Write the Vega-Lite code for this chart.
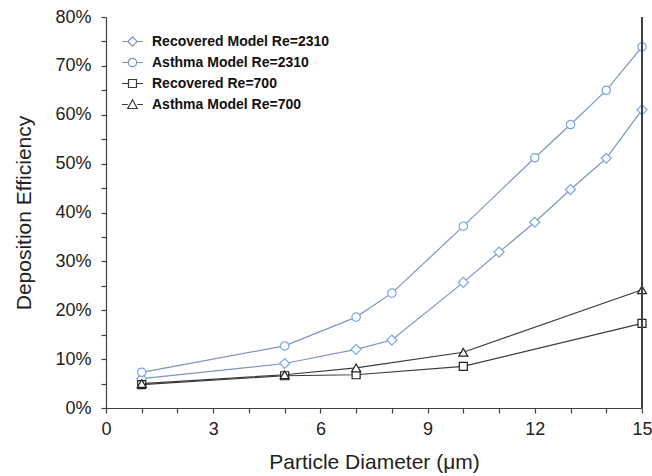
{
  "$schema": "https://vega.github.io/schema/vega-lite/v6.json",
  "width": 536,
  "height": 391,
  "autosize": {"type": "none"},
  "padding": {"left": 106, "top": 17, "right": 10, "bottom": 68},
  "background": "white",
  "config": {
    "view": {"stroke": null},
    "font": "Liberation Sans",
    "axis": {
      "grid": false,
      "domainColor": "#404040",
      "tickColor": "#404040",
      "labelColor": "#222222",
      "titleColor": "#222222",
      "labelFont": "Liberation Sans",
      "titleFont": "Liberation Sans",
      "labelFontSize": 18,
      "titleFontSize": 21,
      "titleFontWeight": "normal",
      "tickSize": 5,
      "domainWidth": 1.2,
      "tickWidth": 1.2,
      "labelOverlap": false
    }
  },
  "data": {
    "values": [
      {"series": "Recovered Model Re=2310", "d": 1, "eff": 0.060},
      {"series": "Recovered Model Re=2310", "d": 5, "eff": 0.091},
      {"series": "Recovered Model Re=2310", "d": 7, "eff": 0.120},
      {"series": "Recovered Model Re=2310", "d": 8, "eff": 0.139},
      {"series": "Recovered Model Re=2310", "d": 10, "eff": 0.257},
      {"series": "Recovered Model Re=2310", "d": 11, "eff": 0.319},
      {"series": "Recovered Model Re=2310", "d": 12, "eff": 0.380},
      {"series": "Recovered Model Re=2310", "d": 13, "eff": 0.447},
      {"series": "Recovered Model Re=2310", "d": 14, "eff": 0.511},
      {"series": "Recovered Model Re=2310", "d": 15, "eff": 0.610},
      {"series": "Asthma Model Re=2310", "d": 1, "eff": 0.073},
      {"series": "Asthma Model Re=2310", "d": 5, "eff": 0.127},
      {"series": "Asthma Model Re=2310", "d": 7, "eff": 0.186},
      {"series": "Asthma Model Re=2310", "d": 8, "eff": 0.235},
      {"series": "Asthma Model Re=2310", "d": 10, "eff": 0.372},
      {"series": "Asthma Model Re=2310", "d": 12, "eff": 0.512},
      {"series": "Asthma Model Re=2310", "d": 13, "eff": 0.580},
      {"series": "Asthma Model Re=2310", "d": 14, "eff": 0.650},
      {"series": "Asthma Model Re=2310", "d": 15, "eff": 0.739},
      {"series": "Recovered Re=700", "d": 1, "eff": 0.048},
      {"series": "Recovered Re=700", "d": 5, "eff": 0.066},
      {"series": "Recovered Re=700", "d": 7, "eff": 0.068},
      {"series": "Recovered Re=700", "d": 10, "eff": 0.085},
      {"series": "Recovered Re=700", "d": 15, "eff": 0.173},
      {"series": "Asthma Model Re=700", "d": 1, "eff": 0.050},
      {"series": "Asthma Model Re=700", "d": 5, "eff": 0.068},
      {"series": "Asthma Model Re=700", "d": 7, "eff": 0.082},
      {"series": "Asthma Model Re=700", "d": 10, "eff": 0.114},
      {"series": "Asthma Model Re=700", "d": 15, "eff": 0.242}
    ]
  },
  "layer": [
    {
      "mark": {"type": "line", "strokeWidth": 1.2},
      "encoding": {
        "x": {
          "field": "d", "type": "quantitative",
          "scale": {"domain": [0, 15], "nice": false, "zero": false},
          "axis": {
            "title": "Particle Diameter (μm)",
            "values": [0,1,2,3,4,5,6,7,8,9,10,11,12,13,14,15],
            "tickCount": 100,
            "format": "d",
            "labelExpr": "datum.value % 3 == 0 ? datum.label : ''",
            "labelBound": false,
            "labelPadding": 7,
            "titlePadding": 13,
            "labelFlush": false
          }
        },
        "y": {
          "field": "eff", "type": "quantitative",
          "scale": {"domain": [0, 0.8], "nice": false},
          "axis": {
            "title": "Deposition Efficiency",
            "format": ".0%",
            "values": [0,0.05,0.1,0.15,0.2,0.25,0.3,0.35,0.4,0.45,0.5,0.55,0.6,0.65,0.7,0.75,0.8],
            "tickCount": 100,
            "labelExpr": "round(datum.value*100) % 10 == 0 ? datum.label : ''",
            "labelPadding": 10,
            "titlePadding": 20,
            "labelFlush": false
          }
        },
        "color": {
          "field": "series", "type": "nominal",
          "scale": {
            "domain": ["Recovered Model Re=2310", "Asthma Model Re=2310", "Recovered Re=700", "Asthma Model Re=700"],
            "range": ["#7f95bb", "#7f95bb", "#3a3a3a", "#3a3a3a"]
          },
          "legend": {
            "title": null,
            "orient": "none",
            "legendX": 15,
            "legendY": 13,
            "labelFont": "Liberation Sans",
            "labelFontSize": 14,
            "labelFontWeight": "bold",
            "labelColor": "#111111",
            "labelLimit": 400,
            "symbolSize": 441,
            "symbolStrokeWidth": 1.2,
            "labelOffset": 8,
            "rowPadding": 2,
            "symbolType": "M-1,0H1",
            "encode": {
              "symbols": {
                "update": {
                  "fill": {"value": "white"},
                  "fillOpacity": {"value": 1},
                  "shape": {"signal": "datum.value == 'Recovered Model Re=2310' ? 'M-1,0H-0.45M0.45,0H1M-0.45,0L0,-0.45L0.45,0L0,0.45Z' : datum.value == 'Asthma Model Re=2310' ? 'M-1,0H-0.4M0.4,0H1M-0.4,0A0.4,0.4,0,1,1,0.4,0A0.4,0.4,0,1,1,-0.4,0Z' : datum.value == 'Recovered Re=700' ? 'M-1,0H-0.38M0.38,0H1M-0.38,-0.38H0.38V0.38H-0.38Z' : 'M-1,0H-0.45M0.45,0H1M0,-0.45L0.45,0.38H-0.45Z'"}
                }
              }
            }
          }
        }
      }
    },
    {
      "mark": {"type": "point", "filled": false, "fill": "white", "fillOpacity": 1, "opacity": 1, "strokeWidth": 1.2},
      "encoding": {
        "x": {"field": "d", "type": "quantitative"},
        "y": {"field": "eff", "type": "quantitative"},
        "stroke": {
          "condition": {"test": "indexof(datum.series, '2310') >= 0", "value": "#76a5e8"},
          "value": "#222222"
        },
        "shape": {
          "condition": [
            {"test": "datum.series == 'Recovered Model Re=2310'", "value": "diamond"},
            {"test": "datum.series == 'Asthma Model Re=2310'", "value": "circle"},
            {"test": "datum.series == 'Recovered Re=700'", "value": "square"}
          ],
          "value": "triangle-up"
        },
        "size": {
          "condition": [
            {"test": "datum.series == 'Recovered Model Re=2310'", "value": 100},
            {"test": "datum.series == 'Asthma Model Re=2310'", "value": 70},
            {"test": "datum.series == 'Recovered Re=700'", "value": 64}
          ],
          "value": 80
        }
      }
    },
    {
      "mark": {"type": "rule", "color": "#404040", "strokeWidth": 1.2},
      "encoding": {"x": {"datum": 15, "type": "quantitative"}}
    }
  ]
}
